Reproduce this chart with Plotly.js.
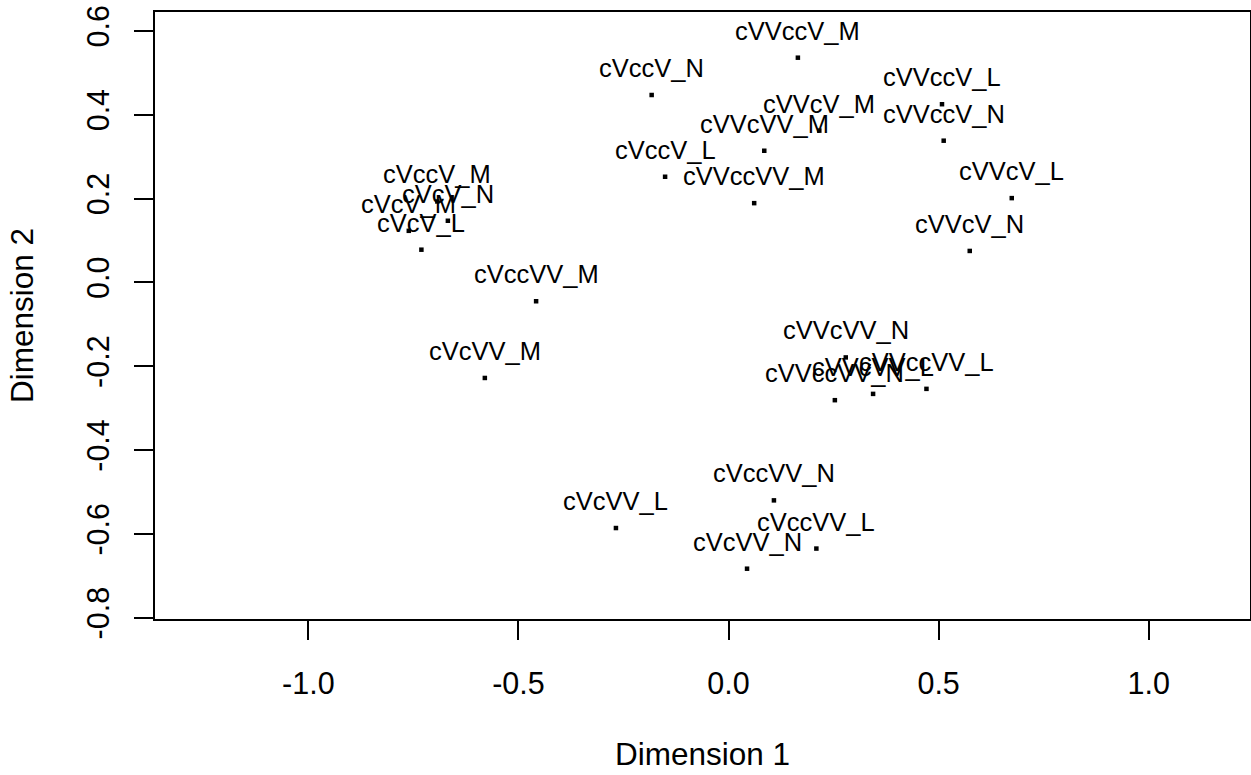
<!DOCTYPE html>
<html>
<head>
<meta charset="utf-8">
<script src="https://cdn.plot.ly/plotly-3.0.1.min.js"></script>
<style>html,body{margin:0;padding:0;background:#fff;}#chart{width:1251px;height:775px;}</style>
</head>
<body>
<div id="chart"></div>
<script>
// Category labels (stimulus types)
var labels = [
  "cVcV_L", "cVcV_M", "cVcV_N",
  "cVccV_L", "cVccV_M", "cVccV_N",
  "cVcVV_L", "cVcVV_M", "cVcVV_N",
  "cVccVV_L", "cVccVV_M", "cVccVV_N",
  "cVVcV_L", "cVVcV_M", "cVVcV_N",
  "cVVccV_L", "cVVccV_M", "cVVccV_N",
  "cVVcVV_L", "cVVcVV_M", "cVVcVV_N",
  "cVVccVV_L", "cVVccVV_M", "cVVccVV_N"
];
// Dimension 1 coordinates
var dim1 = [
  -0.731, -0.761, -0.668,
  -0.151, -0.693, -0.183,
  -0.268, -0.580, 0.044,
  0.209, -0.458, 0.108,
  0.674, 0.216, 0.574,
  0.508, 0.165, 0.512,
  0.344, 0.085, 0.279,
  0.471, 0.061, 0.253
];
// Dimension 2 coordinates
var dim2 = [
  0.078, 0.123, 0.147,
  0.252, 0.193, 0.447,
  -0.586, -0.228, -0.683,
  -0.635, -0.045, -0.520,
  0.201, 0.362, 0.075,
  0.425, 0.536, 0.338,
  -0.266, 0.314, -0.179,
  -0.254, 0.189, -0.281
];
var xTicks = [-1.0, -0.5, 0.0, 0.5, 1.0];
var yTicks = [-0.8, -0.6, -0.4, -0.2, 0.0, 0.2, 0.4, 0.6];

var FONT = "Liberation Sans, Arial, sans-serif";

var trace = {
  x: dim1, y: dim2, type: "scatter", mode: "markers",
  marker: {symbol: "square", size: 4.5, color: "#000"},
  hoverinfo: "text", text: labels
};

var annotations = labels.map(function(l, i) {
  return {x: dim1[i], y: dim2[i], xref: "x", yref: "y", text: l,
    showarrow: false, xanchor: "center", yanchor: "middle", yshift: 27,
    font: {family: FONT, size: 25.5, color: "#000"}};
});

var layout = {
  width: 1251, height: 775,
  margin: {l: 155, r: 1, t: 12, b: 156},
  paper_bgcolor: "#fff", plot_bgcolor: "#fff",
  showlegend: false,
  font: {family: FONT, color: "#000"},
  xaxis: {
    range: [-1.365, 1.241], tickvals: xTicks, ticktext: xTicks.map(function(v){return v.toFixed(1);}),
    showgrid: false, zeroline: false, showline: true, mirror: true, linecolor: "#000", linewidth: 2,
    ticks: "outside", ticklen: 19, tickwidth: 2, tickcolor: "#000",
    tickfont: {family: FONT, size: 30.5, color: "#000"}, ticklabelstandoff: 17,
    title: {text: "Dimension 1", font: {family: FONT, size: 31.5, color: "#000"}, standoff: 44}
  },
  yaxis: {
    range: [-0.803, 0.645], tickvals: yTicks, ticktext: yTicks.map(function(v){return v.toFixed(1);}),
    showgrid: false, zeroline: false, showline: true, mirror: true, linecolor: "#000", linewidth: 2,
    ticks: "outside", ticklen: 19, tickwidth: 2, tickcolor: "#000", tickangle: -90,
    tickfont: {family: FONT, size: 30.5, color: "#000"}, ticklabelstandoff: 13,
    title: {text: "Dimension 2", font: {family: FONT, size: 31.5, color: "#000"}, standoff: 38}
  },
  annotations: annotations
};

Plotly.newPlot("chart", [trace], layout, {displayModeBar: false, staticPlot: true});
</script>
</body>
</html>
